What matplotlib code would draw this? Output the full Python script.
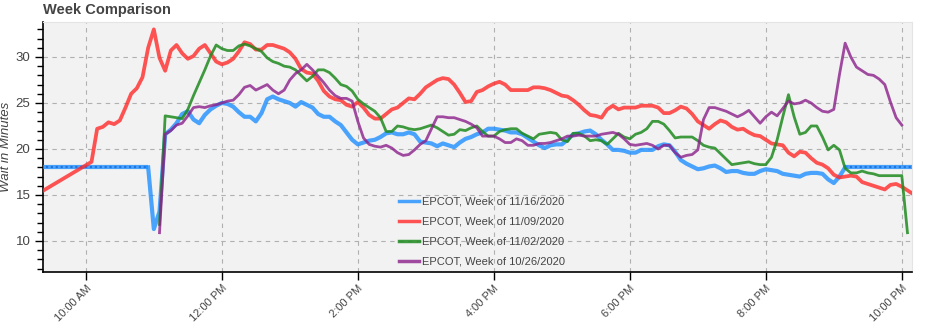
"""
Week comparison of EPCOT wait times (5-minute samples).
"""
import numpy as np
import matplotlib
matplotlib.use("Agg")
import matplotlib.pyplot as plt
from matplotlib.ticker import FixedLocator, MultipleLocator, FuncFormatter

plt.rcParams['font.family'] = ['Liberation Sans', 'DejaVu Sans']

# slot k = minutes since 10:00 AM / 5
labels = [
    "EPCOT, Week of 11/16/2020",
    "EPCOT, Week of 11/09/2020",
    "EPCOT, Week of 11/02/2020",
    "EPCOT, Week of 10/26/2020",
]

# week of 11/16 - real samples from slot 11 to 134, flat fill (18 min) outside
blue_start = 11
blue_vals = [
    18.0, 11.3, 13.2, 21.6, 22.1, 22.8, 23.8, 24.1, 23.2, 22.8,
    23.7, 24.3, 24.7, 25.0, 24.9, 24.6, 24.0, 23.5, 23.5, 23.0,
    23.9, 25.4, 25.7, 25.4, 25.2, 25.0, 24.6, 25.1, 24.8, 24.5,
    23.8, 23.5, 23.5, 23.0, 22.6, 21.8, 21.0, 20.5, 20.7, 20.9,
    21.0, 21.3, 21.7, 21.8, 21.6, 21.6, 21.8, 21.6, 20.8, 20.7,
    20.6, 20.3, 20.6, 20.4, 20.2, 20.7, 21.1, 21.3, 21.6, 21.8,
    22.2, 22.2, 22.1, 22.0, 21.8, 21.8, 21.6, 21.2, 20.8, 20.4,
    20.1, 20.4, 20.5, 20.5, 21.0, 21.6, 21.7, 21.9, 22.0, 21.6,
    21.0, 20.5, 19.9, 19.9, 19.8, 19.6, 19.6, 19.9, 19.9, 19.9,
    20.3, 20.5, 20.4, 19.7, 18.8, 18.4, 18.1, 17.8, 17.9, 18.1,
    18.2, 17.9, 17.5, 17.6, 17.6, 17.4, 17.3, 17.3, 17.6, 17.8,
    17.7, 17.6, 17.3, 17.2, 17.1, 17.0, 17.3, 17.4, 17.4, 17.3,
    16.7, 16.3, 17.0, 18.0,
]
blue_fill_am = [-8, 11]      # slots
blue_fill_pm = [134, 148]
blue_fill_val = 18.0

# week of 11/09 - one early sample at 9:20 AM, then from 10:05 AM
red_early = (-8, 15.3)
red_start = 1
red_vals = [
    18.6, 22.2, 22.4, 22.9, 22.7, 23.1, 24.5, 26.0, 26.6, 27.8,
    31.0, 33.0, 29.9, 28.5, 30.7, 31.3, 30.4, 29.8, 30.1, 30.9,
    31.3, 30.4, 29.5, 29.2, 29.4, 29.8, 30.6, 31.6, 31.4, 30.8,
    30.8, 31.3, 31.3, 31.1, 30.9, 30.5, 29.8, 28.7, 28.3, 28.2,
    27.4, 26.3, 25.7, 25.4, 25.3, 24.8, 24.6, 25.1, 24.5, 23.7,
    23.3, 23.3, 23.8, 24.3, 24.5, 25.0, 25.5, 25.4, 26.0, 26.7,
    27.1, 27.5, 27.7, 27.6, 27.0, 26.1, 25.1, 25.2, 26.2, 26.4,
    26.8, 27.1, 27.3, 27.0, 26.4, 26.4, 26.4, 26.4, 26.7, 26.7,
    26.6, 26.4, 26.1, 25.8, 25.7, 25.3, 24.8, 24.2, 23.7, 23.6,
    23.4, 24.3, 24.7, 24.3, 24.5, 24.5, 24.5, 24.7, 24.7, 24.7,
    24.5, 23.9, 23.9, 24.2, 24.6, 24.4, 23.8, 23.0, 22.6, 22.2,
    22.7, 23.1, 22.9, 22.4, 22.1, 22.2, 21.8, 21.5, 21.4, 21.0,
    20.6, 20.5, 20.4, 19.6, 19.2, 19.7, 19.6, 19.0, 18.5, 18.3,
    17.9, 17.2, 16.9, 17.0, 17.1, 17.0, 16.4, 16.2, 16.0, 15.8,
    15.6, 16.1, 16.2, 15.9, 15.5, 15.1,
]

# week of 11/02
green_start = 13
green_vals = [
    11.8, 23.6, 23.5, 23.4, 23.3, 24.3, 25.8, 27.2, 28.6, 30.1,
    31.3, 30.9, 30.7, 30.7, 31.2, 31.4, 31.2, 30.9, 30.6, 29.9,
    29.5, 29.3, 29.0, 28.9, 28.6, 28.0, 27.4, 27.9, 28.6, 28.6,
    28.3, 27.7, 27.0, 26.8, 26.3, 25.4, 24.9, 24.5, 24.1, 23.4,
    21.9, 21.9, 22.5, 22.4, 22.2, 22.1, 22.2, 22.4, 22.6, 22.3,
    21.9, 21.5, 21.6, 22.1, 22.0, 22.3, 22.5, 21.9, 21.4, 21.4,
    21.9, 22.1, 22.2, 22.2, 21.7, 21.4, 21.1, 21.6, 21.7, 21.8,
    21.7, 21.0, 20.8, 21.7, 21.7, 21.4, 20.9, 21.0, 20.9, 20.5,
    21.1, 21.7, 21.3, 21.1, 21.6, 21.8, 22.2, 23.0, 23.0, 22.7,
    22.0, 21.2, 21.3, 21.3, 21.3, 20.9, 20.4, 20.2, 20.1, 19.5,
    18.9, 18.3, 18.4, 18.5, 18.6, 18.4, 18.3, 18.3, 19.1, 21.0,
    23.5, 25.9, 23.5, 21.6, 21.8, 22.5, 22.5, 21.3, 19.9, 20.4,
    19.9, 17.9, 17.4, 17.4, 17.6, 17.4, 17.3, 17.1, 17.1, 17.1,
    17.1, 17.1, 10.9,
]

# week of 10/26
purple_start = 13
purple_vals = [
    10.9, 21.6, 22.0, 22.6, 22.8, 23.6, 24.5, 24.6, 24.5, 24.7,
    24.8, 25.0, 25.2, 25.3, 25.9, 26.7, 26.9, 26.4, 26.7, 27.0,
    26.4, 26.0, 26.4, 27.5, 28.2, 28.6, 29.2, 28.6, 27.9, 27.2,
    26.4, 25.8, 25.5, 25.5, 25.2, 23.0, 21.2, 20.5, 20.3, 20.2,
    20.4, 20.1, 19.6, 19.3, 19.4, 19.9, 20.5, 20.9, 22.2, 23.5,
    23.5, 23.4, 23.4, 23.2, 23.0, 22.7, 22.3, 21.4, 21.4, 21.4,
    21.1, 20.7, 20.7, 21.1, 20.9, 20.4, 20.4, 20.6, 20.6, 20.7,
    20.9, 21.1, 21.4, 21.4, 21.5, 21.4, 21.4, 21.4, 21.6, 21.7,
    21.8, 21.6, 21.1, 20.5, 20.4, 20.5, 20.6, 20.4, 20.0, 20.4,
    20.4, 19.6, 19.1, 19.3, 19.4, 19.9, 23.2, 24.5, 24.5, 24.3,
    24.1, 23.8, 23.5, 23.8, 24.2, 23.5, 22.8, 23.5, 24.0, 23.6,
    24.4, 25.2, 24.9, 25.0, 25.3, 25.0, 24.5, 24.1, 24.0, 24.3,
    28.1, 31.5, 30.0, 28.9, 28.5, 28.1, 28.0, 27.6, 27.0, 25.1,
    23.4, 22.6,
]

colors = ["#1f8fff", "#ff2a2a", "#1f8a1f", "#8a1f8a"]


def slot_hours(start, n):
    return 10 + (start + np.arange(n)) / 12.0


def hour_label(h, pos=None):
    h = int(round(h))
    suffix = "AM" if h < 12 else "PM"
    h12 = h % 12 or 12
    return f"{h12}:00 {suffix}"


fig = plt.figure(figsize=(9.29, 3.22), dpi=100)
ax = fig.add_axes([43 / 929, 50 / 322, 869 / 929, 250 / 322])
ax.set_facecolor("#f2f2f2")

# blue: filled (flat) parts drawn solid with a dotted overlay
for seg in (blue_fill_am, blue_fill_pm):
    xs = 10 + np.array(seg) / 12.0
    ys = [blue_fill_val] * len(seg)
    ax.plot(xs, ys, color=colors[0], lw=3, alpha=0.8, solid_capstyle='butt', zorder=3)
    ax.plot(xs, ys, color="#1060d0", lw=1.6, alpha=0.7, ls=(0, (1, 1.2)), zorder=3)
ax.plot(slot_hours(blue_start, len(blue_vals)), blue_vals, color=colors[0],
        lw=3, alpha=0.8, label=labels[0], zorder=3)

red_x = np.concatenate([[10 + red_early[0] / 12.0], slot_hours(red_start, len(red_vals))])
red_y = [red_early[1]] + red_vals
ax.plot(red_x, red_y, color=colors[1], lw=2.7, alpha=0.8, label=labels[1], zorder=3)

ax.plot(slot_hours(green_start, len(green_vals)), green_vals, color=colors[2],
        lw=2, alpha=0.85, label=labels[2], zorder=3)
ax.plot(slot_hours(purple_start, len(purple_vals)), purple_vals, color=colors[3],
        lw=2, alpha=0.8, label=labels[3], zorder=3)

ax.set_xlim(9.37, 22.15)
ax.set_ylim(6.63, 33.8)

ax.xaxis.set_major_locator(FixedLocator([10, 12, 14, 16, 18, 20, 22]))
ax.xaxis.set_major_formatter(FuncFormatter(hour_label))
ax.yaxis.set_major_locator(MultipleLocator(5))
ax.yaxis.set_minor_locator(MultipleLocator(1))

ax.grid(True, which='major', color="#b0b0b0", ls=(0, (4, 4)), lw=0.8)
ax.set_axisbelow(True)

for side in ("top", "right"):
    ax.spines[side].set_color("#e4e4e4")
for side in ("left", "bottom"):
    ax.spines[side].set_color("black")
    ax.spines[side].set_linewidth(1.2)

ax.tick_params(axis='both', which='major', direction='out', length=6, width=1,
               colors='black', labelcolor="#444444")
ax.tick_params(axis='y', which='minor', direction='out', length=4, width=1)
ax.tick_params(axis='y', labelsize=9.5, pad=3)
ax.tick_params(axis='x', labelsize=8, pad=2)
for lbl in ax.get_xticklabels():
    lbl.set_rotation(45)
    lbl.set_ha('right')
    lbl.set_va('top')
    lbl.set_rotation_mode('anchor')

ax.set_ylabel("Wait in Minutes", fontstyle='italic', fontsize=9.5, color="#444444")
ax.yaxis.set_label_coords(-31 / 869, 0.5)
fig.text(43 / 929, 1 - 10 / 322, "Week Comparison", fontsize=10.5, fontweight='bold',
         color="#444444", ha='left', va='center')

leg = ax.legend(loc='upper left', bbox_to_anchor=(352 / 869, 1 - 170 / 250),
                frameon=False, fontsize=8, handlelength=1.8, handletextpad=0.25,
                labelspacing=0.9, borderaxespad=0)
for txt in leg.get_texts():
    txt.set_color("#444444")
for line in leg.get_lines():
    line.set_linewidth(2.5)

fig.savefig("out.png", dpi=100)
